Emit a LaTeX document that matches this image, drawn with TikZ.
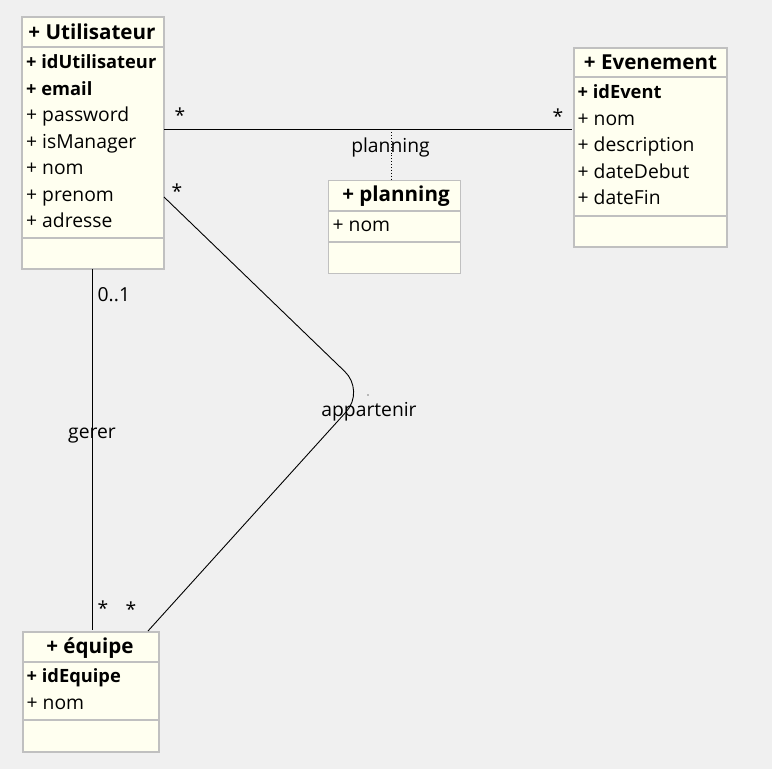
\documentclass[tikz,border=0pt]{standalone}
\usepackage{fontspec}
\setmainfont{Open Sans}
\definecolor{bggray}{HTML}{F0F0F0}
\definecolor{boxfill}{HTML}{FFFFF0}
\definecolor{boxline}{HTML}{C0C0C0}
\begin{document}
\begin{tikzpicture}[x=1pt,y=-1pt,
  cls/.style={draw=boxline, line width=2pt, fill=boxfill, anchor=north west, inner sep=0},
  clsthin/.style={cls, line width=1.2pt},
  sepline/.style={draw=boxline, line width=2pt},
  septhin/.style={draw=boxline, line width=1.2pt},
  hdr/.style={anchor=base, font=\bfseries\fontsize{20.6}{22}\selectfont, inner sep=0},
  attr/.style={anchor=base west, inner sep=0, font=\fontsize{19.3}{21}\selectfont},
  battr/.style={attr, font=\bfseries\fontsize{18.3}{21}\selectfont},
  lbl/.style={anchor=base, inner sep=0, font=\fontsize{19.3}{21}\selectfont},
  mult/.style={inner sep=0, font=\fontsize{19.3}{21}\selectfont},
  conn/.style={draw=black, line width=0.9pt},
  assoc/.style={draw=black, line width=0.9pt, dotted}]
\fill[bggray] (0,0) rectangle (772,769);
\useasboundingbox (0,0) rectangle (772,769);

% Utilisateur
\node[cls, minimum width=142pt, minimum height=252pt] (util) at (21,16) {};
\draw[sepline] (21,46.5) -- (163,46.5);
\draw[sepline] (21,238) -- (163,238);
\node[hdr] (utilh) at (92,39.3) {+ Utilisateur};
\node[battr] (u1) at (26,68.8) {+ idUtilisateur};
\node[battr] (u2) at (26,95.2) {+ email};
\node[attr] (u3) at (26,121.6) {+ password};
\node[attr] (u4) at (26,148) {+ isManager};
\node[attr] (u5) at (26,174.5) {+ nom};
\node[attr] (u6) at (26,201) {+ prenom};
\node[attr] (u7) at (26,227.4) {+ adresse};

% Evenement
\node[cls, minimum width=153pt, minimum height=199pt] (event) at (573,47) {};
\draw[sepline] (573,77) -- (726,77);
\draw[sepline] (573,216) -- (726,216);
\node[hdr] (eventh) at (650.5,69.3) {+ Evenement};
\node[battr] (e1) at (577.5,98.4) {+ idEvent};
\node[attr] (e2) at (577.5,125) {+ nom};
\node[attr] (e3) at (577.5,151.6) {+ description};
\node[attr] (e4) at (577.5,178) {+ dateDebut};
\node[attr] (e5) at (577.5,204.6) {+ dateFin};

% planning
\node[clsthin, minimum width=132pt, minimum height=93pt] (plan) at (328,180) {};
\draw[septhin] (328,211) -- (460,211);
\draw[septhin] (328,242) -- (460,242);
\node[hdr] (planh) at (396,201.7) {+ planning};
\node[attr] (p1) at (332.5,231.7) {+ nom};

% equipe
\node[cls, minimum width=136pt, minimum height=120pt] (equipe) at (22,631) {};
\draw[sepline] (22,662) -- (158,662);
\draw[sepline] (22,720) -- (158,720);
\node[hdr] (equipeh) at (90,653.3) {+ équipe};
\node[battr] (q1) at (26.5,682.3) {+ idEquipe};
\node[attr] (q2) at (26.5,709.3) {+ nom};

% planning association
\coordinate (ua) at (164,129.3);
\coordinate (ea) at (572,129.3);
\coordinate (pmid) at (391,129.3);
\coordinate (ptop) at (391,179.5);
\draw[conn] (ua) -- (ea);
\draw[assoc] (pmid) -- (ptop);
\node[lbl] (planl) at (390.5,152.5) {planning};
\node[mult] (m1) at (180,115) {*};
\node[mult] (m2) at (558,116) {*};

% gerer
\coordinate (ug) at (92,269);
\coordinate (qg) at (92,630);
\draw[conn] (ug) -- (qg);
\node[lbl, anchor=base west] (m3) at (97.5,301.7) {0..1};
\node[lbl] (gererl) at (92,438.5) {gerer};
\node[mult] (m4) at (103,608) {*};

% appartenir
\coordinate (uap) at (164,197);
\coordinate (bend) at (365,391);
\coordinate (qap) at (148,631);
\draw[conn, rounded corners=28pt] (uap) -- (bend) -- (qap);
\fill (368,395) circle (0.6pt);
\node[lbl] (appl) at (369,416.7) {appartenir};
\node[mult] (m5) at (177,191) {*};
\node[mult] (m6) at (131,609) {*};
\end{tikzpicture}
\end{document}
